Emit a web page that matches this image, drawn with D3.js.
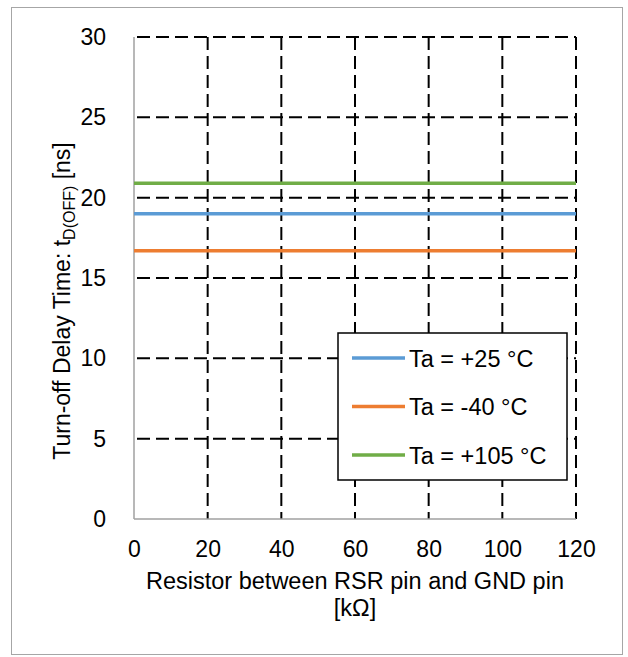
<!DOCTYPE html>
<html><head><meta charset="utf-8">
<script src="https://cdn.jsdelivr.net/npm/d3@7"></script>
<style>body{margin:0;background:#fff}svg{display:block}text{font-family:"Liberation Sans",Arial,sans-serif;fill:#000}</style>
</head><body>
<svg id="c" width="628" height="657"></svg>
<script>
const xValues = [0, 20, 40, 60, 80, 100, 120];
const seriesNames = ["Ta = +25 °C", "Ta = -40 °C", "Ta = +105 °C"];
const seriesColors = ["#5b9bd5", "#ed7d31", "#70ad47"];
const ta25 = [19.0, 19.0, 19.0, 19.0, 19.0, 19.0, 19.0];
const taM40 = [16.7, 16.7, 16.7, 16.7, 16.7, 16.7, 16.7];
const ta105 = [20.9, 20.9, 20.9, 20.9, 20.9, 20.9, 20.9];
const xTicks = [0, 20, 40, 60, 80, 100, 120];
const yTicks = [0, 5, 10, 15, 20, 25, 30];

const FS = 23;
const svg = d3.select("#c");
const L = 134, R = 576, T = 37, B = 519;
const x = d3.scaleLinear().domain([0, 120]).range([L, R]);
const y = d3.scaleLinear().domain([0, 30]).range([B, T]);

svg.append("rect").attr("x", 11.5).attr("y", 7.5).attr("width", 611).attr("height", 647)
  .attr("fill", "#fff").attr("stroke", "#a6a6a6").attr("stroke-width", 1);

// grid
const g = svg.append("g");
g.selectAll(".hg").data(yTicks.filter(d => d > 0)).join("line")
  .attr("x1", L).attr("x2", R).attr("y1", d => y(d)).attr("y2", d => y(d))
  .attr("stroke", "#000").attr("stroke-width", 2).attr("stroke-dasharray", "13,6")
  .attr("stroke-dashoffset", -3);
g.selectAll(".vg").data(xTicks.filter(d => d > 0)).join("line")
  .attr("x1", d => x(d)).attr("x2", d => x(d)).attr("y1", T).attr("y2", B)
  .attr("stroke", "#000").attr("stroke-width", 2).attr("stroke-dasharray", "13,6");

// axes lines
svg.append("line").attr("x1", L).attr("x2", L).attr("y1", T).attr("y2", B).attr("stroke", "#a0a0a0").attr("stroke-width", 1.5);
svg.append("line").attr("x1", L).attr("x2", R).attr("y1", B).attr("y2", B).attr("stroke", "#a0a0a0").attr("stroke-width", 1.5);

// axis labels via d3 axes
const xa = svg.append("g").attr("transform", `translate(0,${B})`)
  .call(d3.axisBottom(x).tickValues(xTicks).tickSize(0).tickPadding(22));
xa.select(".domain").remove();
xa.selectAll("text").attr("font-size", FS).attr("font-family", "Liberation Sans, Arial, sans-serif").attr("fill", "#000");
const ya = svg.append("g").attr("transform", `translate(${L},0)`)
  .call(d3.axisLeft(y).tickValues(yTicks).tickSize(0).tickPadding(28));
ya.select(".domain").remove();
ya.selectAll("text").attr("font-size", FS).attr("font-family", "Liberation Sans, Arial, sans-serif").attr("fill", "#000");

// series
const series = [ta25, taM40, ta105];
const line = d3.line().x((d, i) => x(xValues[i])).y(d => y(d));
series.forEach((s, k) => {
  svg.append("path").attr("d", line(s)).attr("fill", "none")
    .attr("stroke", seriesColors[k]).attr("stroke-width", 3.5);
});

// titles
svg.append("text").attr("x", 355).attr("y", 589).attr("text-anchor", "middle").attr("font-size", 23.5)
  .text("Resistor between RSR pin and GND pin");
svg.append("text").attr("x", 355).attr("y", 616).attr("text-anchor", "middle").attr("font-size", 23.5)
  .text("[kΩ]");
const yt = svg.append("text").attr("transform", `translate(70,301) rotate(-90)`)
  .attr("text-anchor", "middle").attr("font-size", FS);
yt.append("tspan").text("Turn-off Delay Time: t");
yt.append("tspan").attr("font-size", 16).attr("dy", 5).text("D(OFF)");
yt.append("tspan").attr("dy", -5).text(" [ns]");

// legend
const lg = svg.append("g");
lg.append("rect").attr("x", 338).attr("y", 333).attr("width", 229).attr("height", 147)
  .attr("fill", "#fff").attr("stroke", "#000").attr("stroke-width", 1.5);
seriesNames.forEach((n, k) => {
  const yy = 358 + k * 48.5;
  lg.append("line").attr("x1", 352).attr("x2", 405).attr("y1", yy).attr("y2", yy)
    .attr("stroke", seriesColors[k]).attr("stroke-width", 3.5);
  lg.append("text").attr("x", 409).attr("y", yy + 8.5).attr("font-size", 23.5).text(n);
});
</script>
</body></html>
